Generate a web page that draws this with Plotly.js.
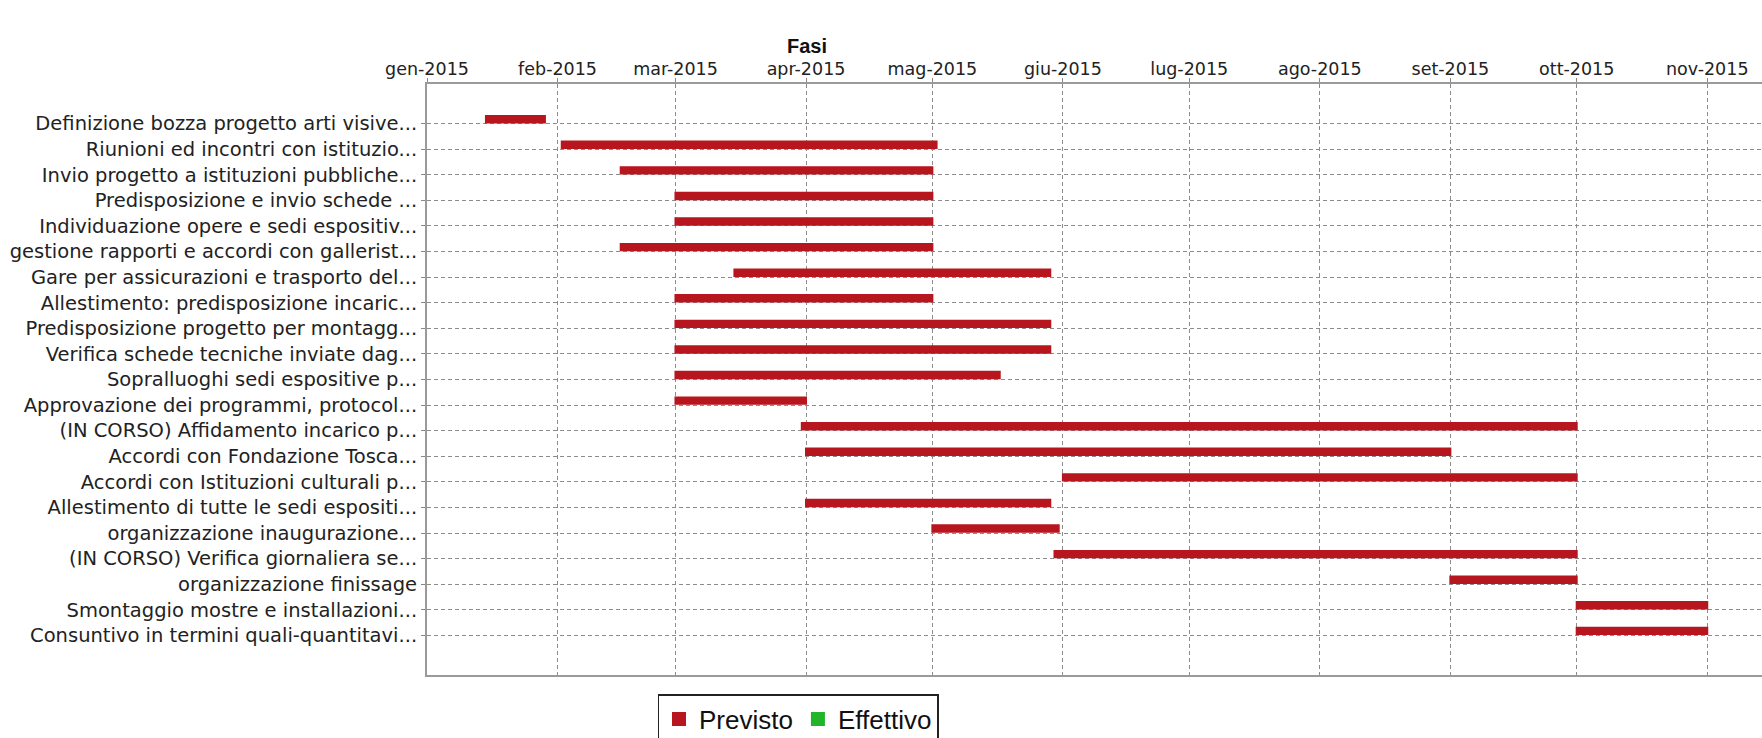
<!DOCTYPE html>
<html>
<head>
<meta charset="utf-8">
<script src="https://cdn.plot.ly/plotly-3.0.1.min.js"></script>
<style>
  html, body { margin: 0; padding: 0; background: #ffffff; }
  #chart { width: 1762px; height: 738px; }
</style>
</head>
<body>
<div id="chart"></div>
<script>
// ---- data ----
var tasks = [
  "Definizione bozza progetto arti visive...",
  "Riunioni ed incontri con istituzio...",
  "Invio progetto a istituzioni pubbliche...",
  "Predisposizione e invio schede ...",
  "Individuazione opere e sedi espositiv...",
  "gestione rapporti e accordi con gallerist...",
  "Gare per assicurazioni e trasporto del...",
  "Allestimento: predisposizione incaric...",
  "Predisposizione progetto per montagg...",
  "Verifica schede tecniche inviate dag...",
  "Sopralluoghi sedi espositive p...",
  "Approvazione dei programmi, protocol...",
  "(IN CORSO) Affidamento incarico p...",
  "Accordi con Fondazione Tosca...",
  "Accordi con Istituzioni culturali p...",
  "Allestimento di tutte le sedi espositi...",
  "organizzazione inaugurazione...",
  "(IN CORSO) Verifica giornaliera se...",
  "organizzazione finissage",
  "Smontaggio mostre e installazioni...",
  "Consuntivo in termini quali-quantitavi..."
];
var previstoStart = [
  "2015-01-15", "2015-02-02", "2015-02-16", "2015-03-01", "2015-03-01",
  "2015-02-16", "2015-03-15", "2015-03-01", "2015-03-01", "2015-03-01",
  "2015-03-01", "2015-03-01", "2015-03-31", "2015-04-01", "2015-06-01",
  "2015-04-01", "2015-05-01", "2015-05-30", "2015-09-01", "2015-10-01",
  "2015-10-01"
];
var previstoEnd = [
  "2015-01-29", "2015-05-02", "2015-05-01", "2015-05-01", "2015-05-01",
  "2015-05-01", "2015-05-29", "2015-05-01", "2015-05-29", "2015-05-29",
  "2015-05-17", "2015-04-01", "2015-10-01", "2015-09-01", "2015-10-01",
  "2015-05-29", "2015-05-31", "2015-10-01", "2015-10-01", "2015-11-01",
  "2015-11-01"
];
var seriesNames = ["Previsto", "Effettivo"];
var monthTicks = [
  "2015-01-01", "2015-02-01", "2015-03-01", "2015-04-01", "2015-05-01",
  "2015-06-01", "2015-07-01", "2015-08-01", "2015-09-01", "2015-10-01",
  "2015-11-01"
];
var monthLabels = [
  "gen-2015", "feb-2015", "mar-2015", "apr-2015", "mag-2015", "giu-2015",
  "lug-2015", "ago-2015", "set-2015", "ott-2015", "nov-2015"
];
var chartTitle = "Fasi";

// ---- build ----
function ms(d) { return Date.parse(d + "T00:00:00Z"); }
var durations = previstoStart.map(function (s, i) { return ms(previstoEnd[i]) - ms(s); });

var traces = [
  {
    type: "bar",
    orientation: "h",
    name: seriesNames[0],
    y: tasks,
    base: previstoStart,
    x: durations,
    width: 0.25,
    offset: -0.3,
    marker: { color: "#b8161f", line: { color: "#b8161f", width: 2 } },
    hoverinfo: "y"
  },
  {
    type: "bar",
    orientation: "h",
    name: seriesNames[1],
    y: [tasks[0]],
    x: [null],
    base: [null],
    width: 0.25,
    offset: 0.01,
    marker: { color: "#22b52a", line: { color: "#22b52a", width: 2 } },
    showlegend: true
  }
];

var fontFam = "Liberation Sans, Arial, sans-serif";
var labelFam = "DejaVu Sans, Liberation Sans, sans-serif";
var layout = {
  width: 1762,
  height: 738,
  margin: { l: 427, r: 0, t: 84, b: 63 },
  paper_bgcolor: "#ffffff",
  plot_bgcolor: "#ffffff",
  showlegend: true,
  title: {
    text: "<b>" + chartTitle + "</b>",
    font: { family: fontFam, size: 20, color: "#111" },
    xref: "container", x: 807 / 1762, xanchor: "center",
    yref: "container", y: 1 - 46 / 738, yanchor: "middle"
  },
  xaxis: {
    type: "date",
    side: "top",
    range: ["2015-01-01", "2015-11-14"],
    tickmode: "array",
    tickvals: monthTicks,
    ticktext: monthLabels,
    tickfont: { family: labelFam, size: 17.5, color: "#222" },
    ticks: "outside",
    ticklen: 4,
    tickcolor: "#888",
    ticklabelstandoff: -4,
    showgrid: true,
    gridcolor: "#8c8c8c",
    griddash: "4px,3px",
    gridwidth: 1,
    showline: true,
    linecolor: "#9a9a9a",
    linewidth: 2,
    mirror: true,
    zeroline: false,
    fixedrange: true
  },
  yaxis: {
    type: "category",
    categoryorder: "array",
    categoryarray: tasks,
    range: [20 + 1.55, -1.55],
    tickfont: { family: labelFam, size: 19.5, color: "#222" },
    ticks: "outside",
    ticklen: 4,
    tickcolor: "#888",
    showgrid: true,
    gridcolor: "#8c8c8c",
    griddash: "4px,3px",
    gridwidth: 1,
    showline: true,
    linecolor: "#9a9a9a",
    linewidth: 2,
    zeroline: false,
    fixedrange: true
  },
  legend: {
    orientation: "h",
    xref: "container", x: 798 / 1762, xanchor: "center",
    yref: "container", y: 1 - 694 / 738, yanchor: "top",
    bordercolor: "#222",
    borderwidth: 1.5,
    bgcolor: "#ffffff",
    font: { family: fontFam, size: 26, color: "#111" },
    itemwidth: 30
  },
  bargap: 0
};

Plotly.newPlot("chart", traces, layout, { staticPlot: true, displayModeBar: false });
</script>
</body>
</html>
